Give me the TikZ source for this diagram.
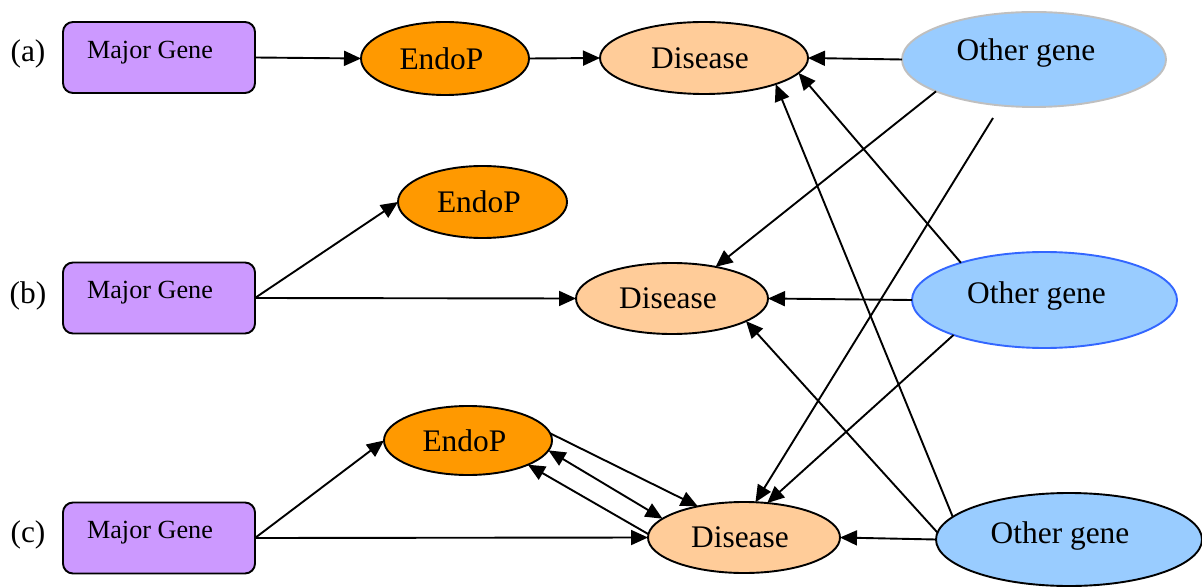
\documentclass[tikz,border=0pt]{standalone}
\usepackage{fontspec}
\setmainfont{Liberation Serif}
\usetikzlibrary{arrows.meta,shapes.geometric}
\definecolor{mgfill}{HTML}{CC99FF}
\definecolor{endofill}{HTML}{FF9900}
\definecolor{disfill}{HTML}{FFCC99}
\definecolor{ogfill}{HTML}{99CCFF}
\definecolor{ogline}{HTML}{BFBFBF}
\definecolor{ogblue}{HTML}{3366FF}
\begin{document}
\begin{tikzpicture}[x=0.5pt,y=-0.5pt,
  every node/.style={inner sep=0pt, outer sep=0pt},
  mgbox/.style={draw, line width=0.95pt, fill=mgfill, rounded corners=5pt,
    minimum width=96pt, minimum height=35.5pt},
  mgtext/.style={font=\fontsize{13.1}{15}\selectfont},
  big/.style={font=\fontsize{15.7}{18}\selectfont},
  endo/.style={ellipse, draw, line width=0.95pt, fill=endofill},
  dis/.style={ellipse, draw, line width=0.95pt, fill=disfill},
  og/.style={ellipse, draw, line width=0.95pt, fill=ogfill},
  arr/.style={line width=0.95pt, -{Triangle[length=8.5pt,width=7.5pt]}},
  arrboth/.style={line width=0.95pt, {Triangle[length=8.5pt,width=7.5pt]}-{Triangle[length=8.5pt,width=7.5pt]}}
]
\useasboundingbox (0,0) rectangle (1202,587);

% row labels
\node[big] (la) at (28,54) {(a)};
\node[big] (lb) at (28,296) {(b)};
\node[big] (lc) at (28,535) {(c)};

% major gene boxes
\node[mgbox] (mg1) at (159,57.5) {};
\node[mgbox] (mg2) at (159,298) {};
\node[mgbox] (mg3) at (159,538) {};
\node[mgtext] (mt1) at (150,53) {Major Gene};
\node[mgtext] (mt2) at (150,293) {Major Gene};
\node[mgtext] (mt3) at (150,533) {Major Gene};

% EndoP
\node[endo, minimum width=84pt, minimum height=36.5pt,
  label={[big,xshift=-1.8pt]center:EndoP}] (en1) at (445,58.5) {};
\node[endo, minimum width=84.5pt, minimum height=36pt,
  label={[big,xshift=-1.8pt]center:EndoP}] (en2) at (482.5,202) {};
\node[endo, minimum width=84pt, minimum height=34.5pt,
  label={[big,xshift=-1.8pt]center:EndoP}] (en3) at (468,440.5) {};

% Disease
\node[dis, minimum width=104pt, minimum height=36pt,
  label={[big,xshift=-2pt]center:Disease}] (dis1) at (704,58) {};
\node[dis, minimum width=96pt, minimum height=35.5pt,
  label={[big,xshift=-2pt]center:Disease}] (dis2) at (672,298.5) {};
\node[dis, minimum width=96pt, minimum height=35.5pt,
  label={[big,xshift=-2pt]center:Disease}] (dis3) at (744,537.5) {};

% Other gene
\node[og, draw=ogline, minimum width=132pt, minimum height=47.5pt,
  label={[big,xshift=-4pt,yshift=3.5pt]center:Other gene}] (og1) at (1034,59.5) {};
\node[og, draw=ogblue, minimum width=132.5pt, minimum height=48pt,
  label={[big,xshift=-4pt,yshift=2pt]center:Other gene}] (og2) at (1044.5,300) {};
\node[og, minimum width=133pt, minimum height=46.5pt,
  label={[big,xshift=-4.5pt,yshift=2pt]center:Other gene}] (og3) at (1069,539.5) {};

\coordinate (fs) at (993,118);

% row (a)
\draw[arr] (mg1.east) -- (en1.west);
\draw[arr] (en1.east) -- (dis1.west);
\draw[arr] (og1.west) -- (dis1.east);

% row (b)
\draw[arr] (mg2.east) -- (en2.west);
\draw[arr] (mg2.east) -- (dis2.west);
\draw[arr] (og2.west) -- (dis2.east);

% row (c)
\draw[arr] (mg3.east) -- (en3.west);
\draw[arr] (mg3.east) -- (dis3.west);
\draw[arr] (og3.west) -- (dis3.east);
\draw[arr] (en3.5.1) -- (dis3.146.2);
\draw[arrboth] (en3.353.9) -- (dis3.167.2);
\draw[arr] (dis3.178) -- (en3.338.7);

% cross connections
\draw[arr] (og1.198.7) -- (dis2.36.9);
\draw[arr] (fs) -- (dis3.72.8);
\draw[arr] (og2.156.4) -- (dis1.351.3);
\draw[arr] (og2.201.5) -- (dis3.56.3);
\draw[arr] (og3.177.2) -- (dis2.343.6);
\draw[arr] (og3.169.5) -- (dis1.340.4);
\end{tikzpicture}
\end{document}
